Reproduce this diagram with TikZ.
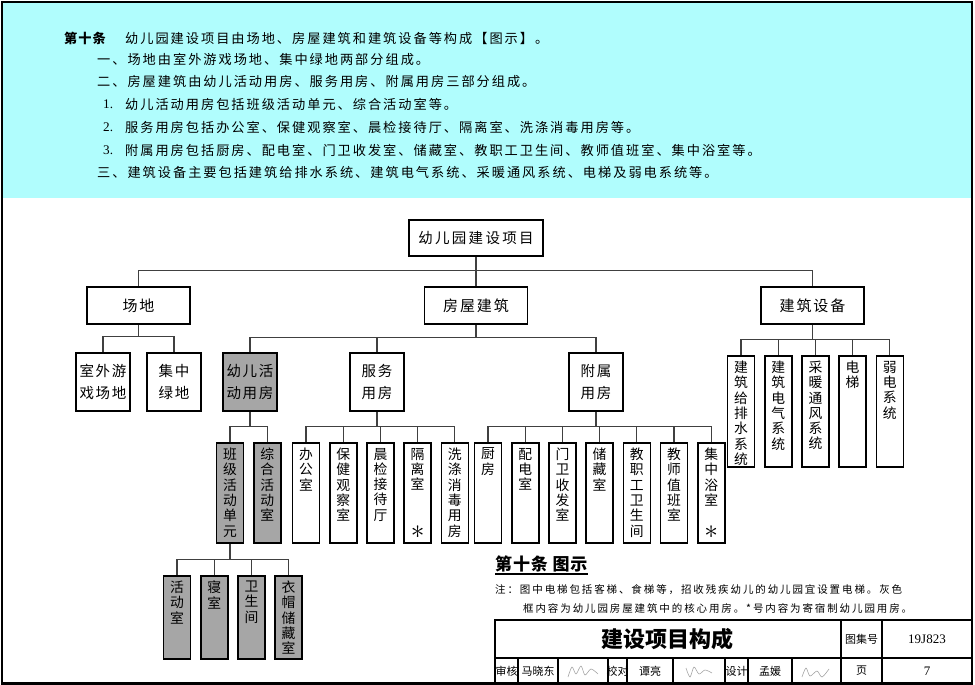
\documentclass[tikz,border=0pt]{standalone}
\usepackage{fontspec}
\setmainfont{Noto Sans CJK SC}
\newfontfamily\latinserif{Liberation Serif}
\usetikzlibrary{positioning}

\definecolor{headcyan}{RGB}{176,253,253}
\definecolor{coregray}{RGB}{166,166,166}
\definecolor{signgray}{RGB}{165,165,165}

\makeatletter
\newcommand{\shu}[3][]{\parbox[t][#2][t]{16pt}{\vspace*{2pt}\centering\@tfor\@ch:=#3\do{\@ch\\}#1}}
\makeatother
\newcommand{\xing}{\par\vfill\scalebox{1.9}{$\ast$}\par\vspace{2pt}}

\tikzstyle{box} = [draw, line width=1.6pt, fill=white, inner sep=3pt]
\tikzstyle{core} = [fill=coregray]
\tikzstyle{rootbox} = [box, minimum width=134pt, minimum height=36pt, font=\fontsize{14.5}{17}\selectfont\addfontfeature{LetterSpace=16}]
\tikzstyle{head} = [box, minimum width=103pt, minimum height=37pt, font=\fontsize{15}{17}\selectfont\addfontfeature{LetterSpace=13}]
\tikzstyle{pair} = [box, minimum width=54pt, minimum height=58pt, align=center, font=\fontsize{14.5}{22}\selectfont\addfontfeature{LetterSpace=12}]
\tikzstyle{col} = [box, minimum width=27pt, font=\fontsize{13.8}{15.3}\selectfont]
\tikzstyle{link} = [draw=black!75, line width=1.1pt]
\tikzstyle{para} = [anchor=west, inner sep=0pt, font=\fontsize{13.2}{15}\selectfont\addfontfeature{LetterSpace=15}]
\tikzstyle{note} = [anchor=west, inner sep=0pt, font=\fontsize{10.5}{12}\selectfont\addfontfeature{LetterSpace=18}]
\tikzstyle{cell} = [inner sep=0pt, font=\fontsize{11}{12}\selectfont]
\tikzstyle{rule} = [line width=1.3pt]
\tikzstyle{sign} = [draw=signgray, line width=0.6pt]

\begin{document}
\begin{tikzpicture}[x=1pt, y=-1pt]
    \useasboundingbox (0,0) rectangle (975,685);
    \fill[headcyan] (2,2) rectangle (972,198);
    \draw[line width=2.5pt] (2,2) rectangle (972,683.5);

    % article text
    \node[para, font=\fontsize{13.2}{15}\selectfont\bfseries\addfontfeature{LetterSpace=8}] (art) at (64,38) {第十条};
    \node[para] (intro) at (125,38) {幼儿园建设项目由场地、房屋建筑和建筑设备等构成【图示】。};
    \node[para] (partA) at (97,59.5) {一、场地由室外游戏场地、集中绿地两部分组成。};
    \node[para] (partB) at (97,81.5) {二、房屋建筑由幼儿活动用房、服务用房、附属用房三部分组成。};
    \foreach \k/\y/\txt in {1/104/{幼儿活动用房包括班级活动单元、综合活动室等。},
                            2/127/{服务用房包括办公室、保健观察室、晨检接待厅、隔离室、洗涤消毒用房等。},
                            3/150/{附属用房包括厨房、配电室、门卫收发室、储藏室、教职工卫生间、教师值班室、集中浴室等。}}{
    \node[para] (num\k) at (103,\y) {\latinserif\k.};
    \node[para] (item\k) at (125,\y) {\txt};
    }
    \node[para] (partC) at (97,172) {三、建筑设备主要包括建筑给排水系统、建筑电气系统、采暖通风系统、电梯及弱电系统等。};

    % tree
    \node[rootbox] (root) at (476,238) {幼儿园建设项目};
    \node[head] (site) at (138.5,305.5) {场地};
    \node[head] (bldg) at (476,305.5) {房屋建筑};
    \node[head] (equip) at (812.5,305.5) {建筑设备};

    \node[pair] (outdoor) at (103,382) {室外游\\戏场地};
    \node[pair] (green) at (174,382) {集中\\绿地};
    \node[pair, core] (act) at (250,382) {幼儿活\\动用房};
    \node[pair] (serv) at (377,382) {服务\\用房};
    \node[pair] (aux) at (596,382) {附属\\用房};

    \node[col] (water) at (741,411.5) {\shu{105pt}{建筑给排水系统}};
    \node[col] (elec) [right=8.6pt of water] {\shu{105pt}{建筑电气系统}};
    \node[col] (hvac) [right=8.6pt of elec] {\shu{105pt}{采暖通风系统}};
    \node[col] (lift) [right=8.6pt of hvac] {\shu{105pt}{电梯}};
    \node[col] (weak) [right=8.6pt of lift] {\shu{105pt}{弱电系统}};

    \node[col, core] (class) at (230,493) {\shu{94pt}{班级活动单元}};
    \node[col, core] (multi) [right=8.6pt of class] {\shu{94pt}{综合活动室}};

    \node[col] (office) at (306,493) {\shu{94pt}{办公室}};
    \node[col] (health) [right=8.6pt of office] {\shu{94pt}{保健观察室}};
    \node[col] (check) [right=8.6pt of health] {\shu{94pt}{晨检接待厅}};
    \node[col] (iso) [right=8.6pt of check] {\shu[\xing]{94pt}{隔离室}};
    \node[col] (wash) [right=8.6pt of iso] {\shu{94pt}{洗涤消毒用房}};

    \node[col] (kitchen) at (488,493) {\shu{94pt}{厨房}};
    \node[col] (power) [right=8.6pt of kitchen] {\shu{94pt}{配电室}};
    \node[col] (guard) [right=8.6pt of power] {\shu{94pt}{门卫收发室}};
    \node[col] (store) [right=8.6pt of guard] {\shu{94pt}{储藏室}};
    \node[col] (staffwc) [right=8.6pt of store] {\shu{94pt}{教职工卫生间}};
    \node[col] (duty) [right=8.6pt of staffwc] {\shu{94pt}{教师值班室}};
    \node[col] (bath) [right=8.6pt of duty] {\shu[\xing]{94pt}{集中浴室}};

    \node[col, core] (play) at (177,617.5) {\shu{77pt}{活动室}};
    \node[col, core] (sleep) [right=8.6pt of play] {\shu{77pt}{寝室}};
    \node[col, core] (wc) [right=8.6pt of sleep] {\shu{77pt}{卫生间}};
    \node[col, core] (cloak) [right=8.6pt of wc] {\shu{77pt}{衣帽储藏室}};

    \foreach \c in {site, bldg, equip}{
    \draw[link] (root.south) |- ([yshift=16pt]\c.north) -- (\c.north);
    }
    \foreach \c in {outdoor, green}{
    \draw[link] (site.south) |- ([yshift=16pt]\c.north) -- (\c.north);
    }
    \foreach \c in {act, serv, aux}{
    \draw[link] (bldg.south) |- ([yshift=15pt]\c.north) -- (\c.north);
    }
    \foreach \c in {water, elec, hvac, lift, weak}{
    \draw[link] (equip.south) |- ([yshift=16pt]\c.north) -- (\c.north);
    }
    \foreach \c in {class, multi}{
    \draw[link] (act.south) |- ([yshift=16pt]\c.north) -- (\c.north);
    }
    \foreach \c in {office, health, check, iso, wash}{
    \draw[link] (serv.south) |- ([yshift=16pt]\c.north) -- (\c.north);
    }
    \foreach \c in {kitchen, power, guard, store, staffwc, duty, bath}{
    \draw[link] (aux.south) |- ([yshift=16pt]\c.north) -- (\c.north);
    }
    \foreach \c in {play, sleep, wc, cloak}{
    \draw[link] (class.south) |- ([yshift=16pt]\c.north) -- (\c.north);
    }

    % caption and notes
    \node[anchor=base west, inner sep=0pt, font=\fontsize{17}{19}\selectfont\bfseries\addfontfeature{LetterSpace=5}] (cap) at (495,570.5) {第十条\ 图示};
    \draw[line width=1.8pt] ([yshift=-3.5pt]cap.base west) -- ([yshift=-3.5pt]cap.base east);
    \node[note] (note1) at (495,590) {注：图中电梯包括客梯、食梯等，招收残疾幼儿的幼儿园宜设置电梯。灰色};
    \node[note] (note2) at (523,608) {框内容为幼儿园房屋建筑中的核心用房。*号内容为寄宿制幼儿园用房。};

    % title block
    \draw[rule] (495,620) rectangle (972,683.5);
    \draw[rule] (495,658) -- (972,658);
    \foreach \x in {841, 882}{
    \draw[rule] (\x,620) -- (\x,683.5);
    }
    \foreach \x in {518, 558, 608, 627, 673, 725, 748, 792}{
    \draw[rule] (\x,658) -- (\x,683.5);
    }
    \node[font=\fontsize{22}{24}\selectfont\bfseries] (title) at (667,639) {建设项目构成};
    \node[cell] (atlas) at (861.5,639) {图集号};
    \node[cell, font=\latinserif\fontsize{13}{14}\selectfont] (code) at (927,639) {19J823};
    \foreach \x/\txt [count=\i] in {506.5/审核, 538/马晓东, 617.5/校对, 650/谭亮, 736.5/设计, 770/孟媛, 861.5/页}{
    \node[cell] (sig\i) at (\x,671) {\txt};
    }
    \node[cell, font=\latinserif\fontsize{13}{14}\selectfont] (page) at (927,671) {7};

    % signatures
    \draw[sign] plot[smooth] coordinates {(568,677) (572,667) (576,674) (581,666) (585,675) (591,669) (598,674)};
    \draw[sign] plot[smooth] coordinates {(686,668) (690,677) (694,667) (699,674) (705,670) (712,673)};
    \draw[sign] plot[smooth] coordinates {(802,677) (806,668) (810,676) (817,671) (822,677) (829,669)};
\end{tikzpicture}
\end{document}
